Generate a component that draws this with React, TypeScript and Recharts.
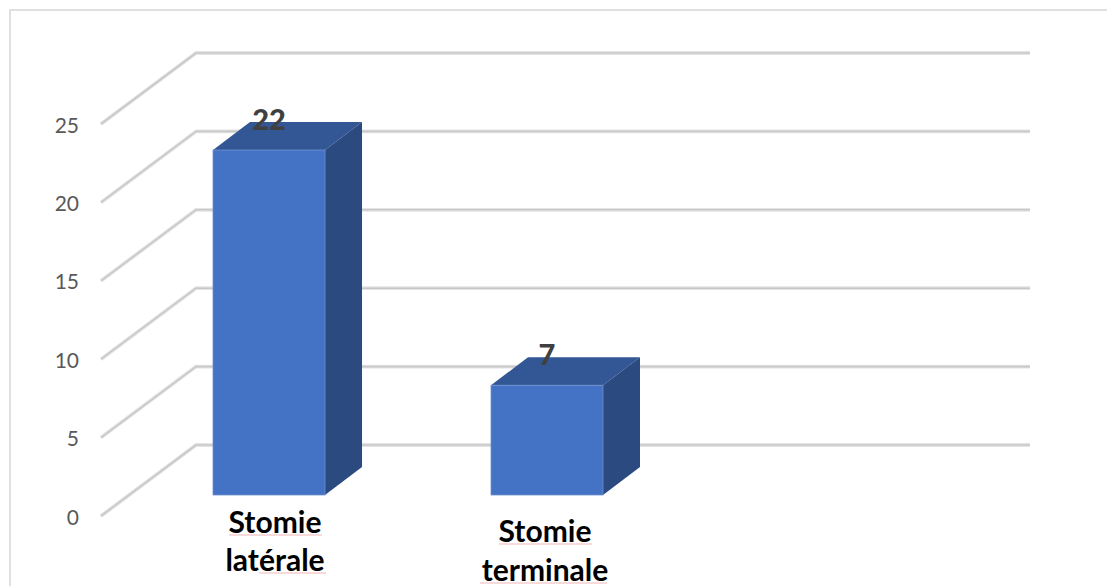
import React from "react";
import { BarChart, Bar, XAxis, YAxis, LabelList, CartesianGrid } from "recharts";

// Stoma types and patient counts; the trailing blank category is an empty row.
const categories = ["Stomie latérale", "Stomie terminale", ""];
const counts: (number | null)[] = [22, 7, null];
const valueTicks = [0, 5, 10, 15, 20, 25];

const rows = categories.map((name, i) => ({ name, count: counts[i] }));

const FONT = "Lato, Carlito, sans-serif";
const DEPTH_X = 37;
const DEPTH_Y = -28;
const FRONT_COLOR = "#4472c4";
const SIDE_COLOR = "#2b4a80";
const TOP_COLOR = "#335794";

// Floor-to-wall gridline of the 3D frame, drawn as a soft double stroke.
function FrameLine({ x1, y1 }: any) {
  const d = `M${x1 - 29},${y1 + 21} L${x1 + 66},${y1 - 50} L${x1 + 900},${y1 - 50}`;
  return (
    <g fill="none" strokeLinejoin="round">
      <path d={d} stroke="#e4e4e4" strokeWidth={3.8} />
      <path d={d} stroke="#c8c8c8" strokeWidth={1.6} />
    </g>
  );
}

function ValueTick({ x, y, payload }: any) {
  return (
    <text
      x={x - 43}
      y={y + 21}
      textAnchor="end"
      dominantBaseline="central"
      fontFamily={FONT}
      fontSize={21}
      fill="#595959"
    >
      {payload.value}
    </text>
  );
}

// Two-line category label with the pale underline seen under flagged words.
function CategoryTick({ x, y, payload, index }: any) {
  if (!payload.value) return null;
  const [first, second] = payload.value.split(" ");
  const cx = x + (index === 0 ? 6 : -2);
  const baseline = y + (index === 0 ? 30 : 39);
  const drop = index === 0 ? 38 : 39;
  const marks =
    index === 0
      ? [
          [cx - 46, cx + 47, baseline + 2],
          [cx - 16, cx + 51, baseline + drop + 2],
        ]
      : [
          [cx - 46, cx + 47, baseline + 2],
          [cx - 65, cx + 62, baseline + drop + 2],
        ];
  return (
    <g>
      <text textAnchor="middle" fontFamily={FONT} fontWeight={700} fontSize={30} fill="#000">
        <tspan x={cx} y={baseline}>{first}</tspan>
        <tspan x={cx} y={baseline + drop}>{second}</tspan>
      </text>
      {marks.map(([a, b, my], i) => (
        <line key={i} x1={a} x2={b} y1={my} y2={my} stroke="#f3b6b6" strokeWidth={1.2} />
      ))}
    </g>
  );
}

// Box-shaped column: front face plus the receding top and side faces.
function BoxBar({ x, y, width, height }: any) {
  if (!height) return null;
  const r = x + width;
  const b = y + height;
  return (
    <g>
      <polygon
        points={`${x},${y} ${r},${y} ${r + DEPTH_X},${y + DEPTH_Y} ${x + DEPTH_X},${y + DEPTH_Y}`}
        fill={TOP_COLOR}
      />
      <polygon
        points={`${r},${y} ${r + DEPTH_X},${y + DEPTH_Y} ${r + DEPTH_X},${b + DEPTH_Y} ${r},${b}`}
        fill={SIDE_COLOR}
      />
      <rect x={x} y={y} width={width} height={height} fill={FRONT_COLOR} stroke="#6f90cf" strokeWidth={0.8} />
    </g>
  );
}

export default function App() {
  return (
    <div
      style={{
        position: "absolute",
        left: 0,
        top: 0,
        width: 1107,
        height: 586,
        overflow: "hidden",
        background: "#fff",
      }}
    >
      <div
        style={{
          position: "absolute",
          left: 9,
          top: 9,
          width: 1110,
          height: 600,
          border: "2px solid #e0e0e0",
          boxSizing: "border-box",
        }}
      />
      <div style={{ position: "absolute", left: 0, top: 0 }}>
        <BarChart
          width={1107}
          height={586}
          data={rows}
          barSize={112}
          margin={{ top: 103, right: 143, bottom: 0, left: 0 }}
        >
          <CartesianGrid vertical={false} horizontal={<FrameLine />} syncWithTicks />
          <XAxis
            dataKey="name"
            height={91}
            axisLine={false}
            tickLine={false}
            tick={<CategoryTick />}
            interval={0}
          />
          <YAxis
            width={130}
            domain={[0, 25]}
            ticks={valueTicks}
            axisLine={false}
            tickLine={false}
            tick={<ValueTick />}
          />
          <Bar dataKey="count" shape={<BoxBar />} isAnimationActive={false}>
            <LabelList
              dataKey="count"
              position="top"
              offset={20}
              fontFamily={FONT}
              fontWeight={900}
              fontSize={29}
              fill="#404040"
            />
          </Bar>
        </BarChart>
      </div>
    </div>
  );
}
